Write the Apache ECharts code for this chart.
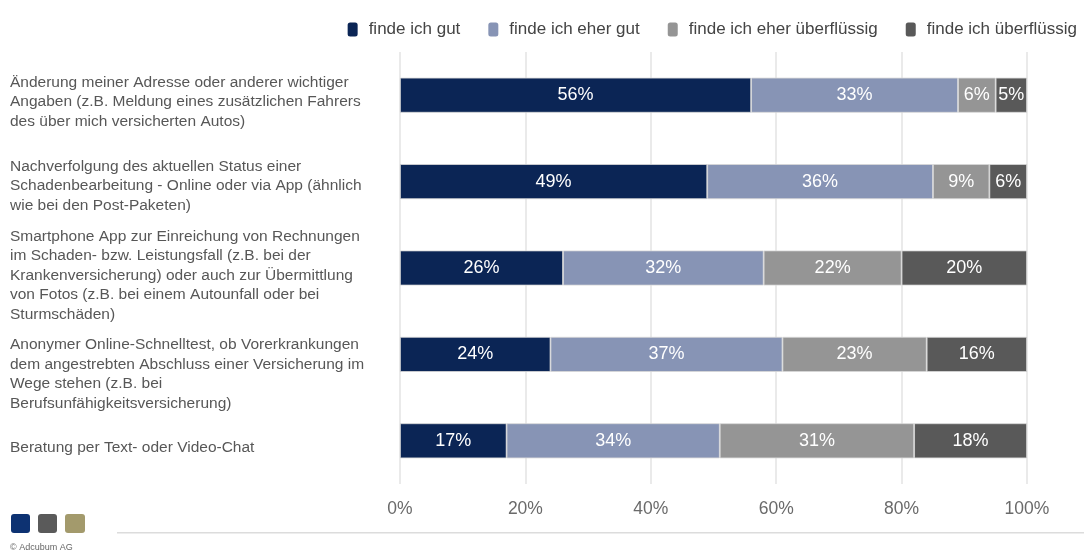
<!DOCTYPE html>
<html>
<head>
<meta charset="utf-8">
<script src="https://cdn.jsdelivr.net/npm/echarts@6/dist/echarts.min.js"></script>
<style>
html,body{margin:0;padding:0;background:#fff;}
#chart{width:1084px;height:552px;}
</style>
</head>
<body>
<div id="chart"></div>
<script>
const categories = [
  "Änderung meiner Adresse oder anderer wichtiger\nAngaben (z.B. Meldung eines zusätzlichen Fahrers\ndes über mich versicherten Autos)",
  "Nachverfolgung des aktuellen Status einer\nSchadenbearbeitung - Online oder via App (ähnlich\nwie bei den Post-Paketen)",
  "Smartphone App zur Einreichung von Rechnungen\nim Schaden- bzw. Leistungsfall (z.B. bei der\nKrankenversicherung) oder auch zur Übermittlung\nvon Fotos (z.B. bei einem Autounfall oder bei\nSturmschäden)",
  "Anonymer Online-Schnelltest, ob Vorerkrankungen\ndem angestrebten Abschluss einer Versicherung im\nWege stehen (z.B. bei\nBerufsunfähigkeitsversicherung)",
  "Beratung per Text- oder Video-Chat"
];
const seriesNames = ["finde ich gut", "finde ich eher gut", "finde ich eher überflüssig", "finde ich überflüssig"];
const findeGut = [56, 49, 26, 24, 17];
const findeEherGut = [33, 36, 32, 37, 34];
const findeEherUeberfluessig = [6, 9, 22, 23, 31];
const findeUeberfluessig = [5, 6, 20, 16, 18];
const xTicks = [0, 20, 40, 60, 80, 100];

const colors = ["#0b2555", "#8794b5", "#959595", "#595959"];
const values = [findeGut, findeEherGut, findeEherUeberfluessig, findeUeberfluessig];
const font = "'Liberation Sans', Arial, sans-serif";
// vertical spacer (px) above each label so text sits slightly below bar centre as in reference
const labelShift = [14, 9, 15, 40, 14];

const chart = echarts.init(document.getElementById('chart'));
chart.setOption({
  animation: false,
  textStyle: { fontFamily: font },
  legend: {
    top: 16, right: 2,
    itemWidth: 10, itemHeight: 14, itemGap: 28,
    icon: 'roundRect',
    itemStyle: { borderWidth: 0 },
    textStyle: { fontSize: 17, color: '#444', fontFamily: font, padding: [0, 0, 0, 6] },
    data: seriesNames
  },
  grid: { left: 400, right: 57, top: 52, bottom: 68 },
  xAxis: {
    type: 'value', min: 0, max: 100, interval: 20,
    axisLine: { show: false }, axisTick: { show: false },
    splitLine: { show: true, lineStyle: { color: '#e3e3e3', width: 1.5 } },
    axisLabel: { formatter: v => xTicks.includes(v) ? v + '%' : '', fontSize: 17.5, color: '#6a6a6a', margin: 16, fontFamily: font }
  },
  yAxis: {
    type: 'category', inverse: true, data: categories,
    axisLine: { show: false }, axisTick: { show: false },
    axisLabel: {
      align: 'left', margin: 390, fontSize: 15.5, lineHeight: 19.5, color: '#575757', fontFamily: font,
      formatter: (v, i) => '{s' + i + '| }\n' + v,
      rich: Object.fromEntries(labelShift.map((h, i) => ['s' + i, { lineHeight: h, fontSize: 1 }]))
    }
  },
  series: seriesNames.map((name, i) => ({
    name, type: 'bar', stack: 'total', barWidth: 35,
    itemStyle: { color: colors[i], borderColor: '#d8d8d8', borderWidth: 0.8 },
    label: { show: true, position: 'inside', formatter: p => p.value + '%', color: '#fff', fontSize: 18, fontFamily: font },
    data: values[i]
  })),
  graphic: [
    { type: 'rect', left: 11, top: 514, shape: { width: 19, height: 19, r: 3 }, style: { fill: '#0d3272' } },
    { type: 'rect', left: 38, top: 514, shape: { width: 19, height: 19, r: 3 }, style: { fill: '#5a5a5a' } },
    { type: 'rect', left: 65, top: 514, shape: { width: 20, height: 19, r: 3 }, style: { fill: '#a39a6c' } },
    { type: 'rect', left: 117, top: 532, shape: { width: 967, height: 1.5 }, style: { fill: '#dcdcdc' } },
    { type: 'text', left: 10, top: 543, style: { text: '© Adcubum AG', fontSize: 9, fill: '#666', fontFamily: font } }
  ]
});
</script>
</body>
</html>
